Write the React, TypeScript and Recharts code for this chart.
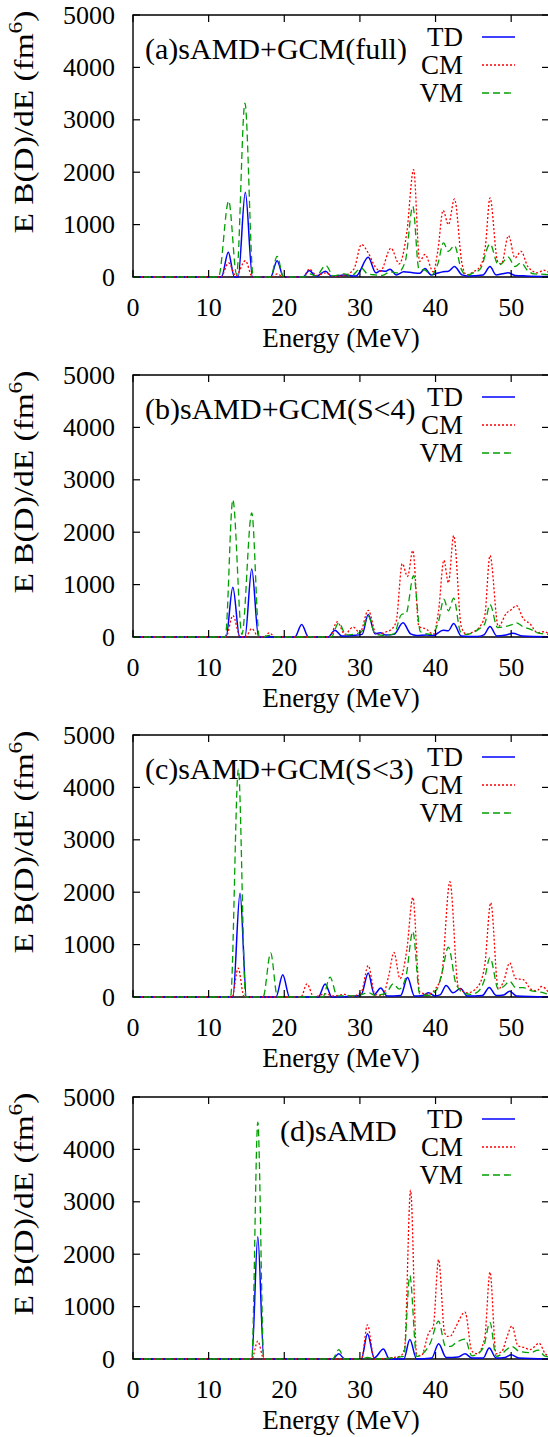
import React from 'react';
import { LineChart, Line, XAxis, YAxis, ReferenceArea } from 'recharts';

type Pt = [number, number];

const energyTicks = [0, 10, 20, 30, 40, 50];
const strengthTicks = [0, 1000, 2000, 3000, 4000, 5000];
const seriesNames = ['TD', 'CM', 'VM'];
const panelLabels = ['(a)sAMD+GCM(full)', '(b)sAMD+GCM(S<4)', '(c)sAMD+GCM(S<3)', '(d)sAMD'];

// (a) full
const fullTD: Pt[] = [[0,0],[11.7,0],[12.6,470],[13.4,0],[13.9,0],[14.85,1615],[15.8,0],[18.2,0],[19.05,310],[19.9,0],[22.5,0],[23.3,125],[24.2,10],[25.45,110],[26.3,10],[27.9,40],[29.5,20],[31.1,375],[32.1,80],[32.7,120],[33.4,110],[34.0,150],[34.8,40],[35.8,100],[37.0,80],[37.9,70],[38.6,160],[39.4,40],[40.2,70],[41.0,100],[41.7,110],[42.5,200],[43.5,40],[44.3,20],[46.3,40],[47.2,200],[48.0,40],[48.8,60],[49.6,80],[50.5,30],[52,20],[55,10]];
const fullCM: Pt[] = [[0,0],[11.6,0],[12.65,270],[13.6,20],[14.85,310],[15.8,0],[18.4,0],[19.05,60],[19.9,0],[22.5,0],[23.3,150],[24.3,30],[25.5,80],[26.5,10],[27.9,30],[29.2,150],[30.2,620],[31.1,460],[32.0,200],[32.7,110],[34.1,550],[35.2,250],[36.2,850],[37.1,2050],[37.9,300],[38.6,430],[39.7,100],[40.3,500],[41.0,1270],[41.7,1000],[42.5,1490],[43.5,250],[44.1,40],[45.0,100],[45.9,200],[46.6,600],[47.2,1510],[48.2,300],[48.7,250],[49.65,790],[50.5,360],[51.3,490],[52.2,200],[53.5,80],[54.3,130],[55,80]];
const fullVM: Pt[] = [[0,0],[11.3,0],[12.65,1450],[13.7,50],[14.8,3320],[15.9,0],[18.2,0],[19.05,395],[19.9,0],[22.5,0],[23.3,60],[24.2,20],[25.5,220],[26.5,20],[27.95,60],[28.8,20],[30.2,170],[31.0,60],[32.0,40],[33.0,30],[34.0,100],[35.0,80],[36.0,300],[37.0,1350],[37.8,150],[38.6,130],[39.5,40],[40.3,250],[41.05,650],[41.7,490],[42.5,600],[43.4,150],[44.1,30],[45.0,80],[45.9,150],[47.2,630],[48.3,230],[48.7,250],[49.6,380],[50.5,200],[51.3,270],[52.2,120],[53.0,60],[54.5,50],[55,40]];

// (b) S<4
const s4TD: Pt[] = [[0,0],[12.3,0],[13.2,950],[14.1,0],[14.8,0],[15.7,1300],[16.6,0],[21.4,0],[22.3,240],[23.2,0],[25.8,0],[26.7,130],[27.6,20],[29.1,30],[30.3,50],[31.1,430],[32.0,60],[32.7,80],[33.4,40],[34.5,50],[35.7,270],[36.7,60],[37.5,30],[38.8,40],[39.7,30],[41.0,130],[41.7,120],[42.4,260],[43.4,20],[45.5,10],[46.4,40],[47.2,200],[48.1,20],[49.3,40],[50.2,70],[51.5,20],[55,5]];
const s4CM: Pt[] = [[0,0],[12.3,0],[13.2,410],[14.2,0],[14.9,0],[15.7,160],[16.6,0],[17.3,0],[18.0,80],[18.8,0],[26.0,0],[27.0,290],[28.0,50],[29.1,190],[30.0,80],[31.1,510],[32.2,50],[33.5,100],[34.2,150],[34.8,300],[35.6,1400],[36.3,1155],[37.0,1650],[37.8,200],[38.8,150],[39.7,50],[40.4,500],[41.1,1465],[41.7,1035],[42.4,1935],[43.4,200],[44.1,50],[45.0,100],[45.7,170],[46.5,400],[47.2,1555],[48.3,200],[49.4,460],[50.0,520],[50.7,600],[51.6,350],[52.5,250],[53.5,80],[54.3,100],[55,60]];
const s4VM: Pt[] = [[0,0],[12.2,0],[13.2,2620],[14.4,50],[15.7,2370],[16.7,0],[17.3,0],[18.0,30],[18.8,0],[26.2,0],[27.2,270],[28.2,40],[29.1,50],[30.2,100],[31.1,400],[32.0,60],[33.0,30],[34.5,60],[35.5,430],[36.1,450],[37.1,1170],[38.0,100],[39.5,50],[40.4,300],[41.1,720],[41.7,500],[42.4,740],[43.3,100],[44.1,50],[45.7,150],[46.5,250],[47.2,620],[48.2,180],[49.2,200],[50.0,230],[50.7,270],[51.5,200],[52.5,150],[53.5,80],[55,50]];

// (c) S<3
const s3TD: Pt[] = [[0,0],[13.2,0],[14.15,1980],[15.0,0],[18.9,0],[19.8,425],[20.7,0],[24.5,0],[25.4,250],[26.3,0],[29.5,20],[30.2,50],[31.1,460],[31.9,50],[32.75,170],[33.6,20],[35.4,30],[36.3,370],[37.2,20],[38.3,30],[39.1,80],[39.9,20],[40.6,40],[41.4,220],[42.3,80],[43.3,160],[44.2,20],[46.2,30],[47.1,180],[48.0,30],[49.0,40],[49.8,110],[50.7,20],[55,5]];
const s3CM: Pt[] = [[0,0],[13.1,0],[13.9,550],[14.7,0],[22.2,0],[23.0,250],[23.9,0],[25.5,60],[26.5,20],[28.0,50],[28.8,10],[30.2,100],[31.1,600],[32.0,50],[33.0,30],[33.8,400],[34.5,850],[35.3,350],[36.2,900],[37.0,1900],[37.9,100],[39.0,50],[40.0,160],[40.8,410],[41.9,2200],[43.0,200],[44.2,80],[45.6,200],[46.5,600],[47.3,1800],[48.3,150],[49.0,300],[49.8,650],[50.6,350],[51.6,330],[52.6,150],[53.4,120],[54.0,200],[55,80]];
const s3VM: Pt[] = [[0,0],[12.9,0],[13.93,4350],[14.9,0],[17.2,0],[18.2,840],[19.1,0],[25.1,0],[26.05,380],[27.0,20],[29.5,20],[30.5,60],[31.2,80],[32.0,30],[33.5,80],[34.4,250],[35.2,150],[36.1,400],[37.0,1250],[37.9,60],[39.0,30],[40.2,150],[40.9,500],[41.7,950],[42.7,250],[43.7,80],[44.6,50],[45.6,100],[46.4,300],[47.2,750],[48.3,150],[49.0,200],[49.8,300],[50.6,180],[51.6,180],[52.6,120],[53.5,100],[54.3,80],[55,40]];

// (d) sAMD
const amdTD: Pt[] = [[0,0],[15.7,0],[16.5,2335],[17.3,0],[26.4,0],[27.2,100],[28.0,0],[30.2,0],[31.0,480],[31.9,20],[33.1,190],[33.9,0],[35.8,0],[36.6,370],[37.5,0],[39.5,20],[40.4,290],[41.4,30],[43.0,40],[43.9,100],[44.8,20],[46.3,20],[47.1,210],[48.0,20],[49.2,30],[50.0,80],[51.0,20],[55,5]];
const amdCM: Pt[] = [[0,0],[15.7,0],[16.5,340],[17.3,0],[30.2,0],[31.0,650],[31.9,0],[35.3,50],[35.9,200],[36.7,3220],[37.5,100],[38.1,60],[39.1,500],[39.7,620],[40.4,1900],[41.2,500],[41.6,430],[42.0,440],[42.6,590],[43.9,895],[44.8,150],[45.5,100],[46.5,400],[47.2,1660],[48.0,100],[48.8,150],[49.4,400],[50.1,630],[50.9,250],[51.7,220],[52.5,180],[53.7,300],[54.5,100],[55,60]];
const amdVM: Pt[] = [[0,0],[15.7,0],[16.5,4520],[17.3,0],[26.4,0],[27.2,180],[28.0,0],[30.3,0],[31.0,30],[31.9,0],[35.8,50],[36.6,1590],[37.5,50],[38.3,100],[39.3,300],[40.4,720],[41.3,250],[42.0,240],[42.6,300],[43.9,380],[44.8,60],[45.6,100],[46.4,250],[47.2,700],[48.0,50],[48.8,100],[49.4,180],[50.1,240],[51.0,150],[52.5,120],[53.6,170],[54.4,60],[55,40]];

const FONT = 'Liberation Serif';
const W = 560;
const H = 360;
const LEFT = 133;
const RIGHT = 549;
const TOP = 15;
const BOTTOM = 277;

const colors = ['#0000ff', '#ff0000', '#00a000'];
const dashes = [undefined, '2 2', '7 4'];

const toPts = (arr: Pt[]) => arr.map(([e, v]) => ({ e, v }));

const XTick = (props: any) => {
  const { x, payload } = props;
  return (
    <g>
      <line x1={x} x2={x} y1={BOTTOM} y2={BOTTOM - 7} stroke="#000" strokeWidth={1.2} />
      <line x1={x} x2={x} y1={TOP} y2={TOP + 7} stroke="#000" strokeWidth={1.2} />
      <text x={x} y={BOTTOM + 30} textAnchor="middle" dominantBaseline="central" style={{ fontFamily: FONT }} fontSize={26} fill="#000">
        {payload.value}
      </text>
    </g>
  );
};

const YTick = (props: any) => {
  const { y, payload } = props;
  return (
    <g>
      <line x1={LEFT} x2={LEFT + 7} y1={y} y2={y} stroke="#000" strokeWidth={1.2} />
      <line x1={RIGHT} x2={RIGHT - 7} y1={y} y2={y} stroke="#000" strokeWidth={1.2} />
      <text x={115} y={y} textAnchor="end" dominantBaseline="central" style={{ fontFamily: FONT }} fontSize={26} fill="#000">
        {payload.value}
      </text>
    </g>
  );
};

interface PanelProps {
  label: string;
  labelX: number;
  series: Pt[][];
  top: number;
}

const Panel: React.FC<PanelProps> = ({ label, labelX, series, top }) => (
  <div style={{ position: 'absolute', left: 0, top, width: W, height: H }}>
    <LineChart width={W} height={H} margin={{ top: TOP, right: W - RIGHT, bottom: 0, left: 0 }}>
      <XAxis
        dataKey="e"
        type="number"
        domain={[0, 55]}
        ticks={energyTicks}
        height={H - BOTTOM}
        axisLine={false}
        tickLine={false}
        tick={(p: any) => <XTick {...p} />}
      />
      <YAxis
        type="number"
        domain={[0, 5000]}
        ticks={strengthTicks}
        width={LEFT}
        axisLine={false}
        tickLine={false}
        tick={(p: any) => <YTick {...p} />}
      />
      {series.map((s, i) => (
        <Line
          key={seriesNames[i]}
          data={toPts(s)}
          dataKey="v"
          type="monotone"
          stroke={colors[i]}
          strokeWidth={i === 0 ? 1.5 : 1.3}
          strokeDasharray={dashes[i]}
          dot={false}
          isAnimationActive={false}
        />
      ))}
      <ReferenceArea x1={0} x2={55} y1={0} y2={5000} fill="none" stroke="#000" strokeWidth={1.4} ifOverflow="visible" />
    </LineChart>
    <svg width={W} height={H} style={{ position: 'absolute', left: 0, top: 0, pointerEvents: 'none', fontFamily: FONT }}>
      <text x={labelX} y={48} dominantBaseline="central" fontSize={30} fill="#000">
        {label}
      </text>
      {seriesNames.map((n, i) => (
        <g key={n}>
          <text x={463} y={37 + i * 28} textAnchor="end" dominantBaseline="central" fontSize={27} fill="#000">
            {n}
          </text>
          <line x1={482} x2={515} y1={37 + i * 28} y2={37 + i * 28} stroke={colors[i]} strokeWidth={1.3} strokeDasharray={dashes[i]} />
        </g>
      ))}
      <text
        transform="translate(33,122) rotate(-90)"
        textAnchor="middle"
        fontSize={27}
        fill="#000"
        textLength={223}
        lengthAdjust="spacingAndGlyphs"
      >
        E B(D)/dE (fm<tspan dy={-11} fontSize={19}>6</tspan><tspan dy={11}>)</tspan>
      </text>
      <text x={341} y={338} textAnchor="middle" dominantBaseline="central" fontSize={27} fill="#000">
        Energy (MeV)
      </text>
    </svg>
  </div>
);

export default function App() {
  const data = [
    [fullTD, fullCM, fullVM],
    [s4TD, s4CM, s4VM],
    [s3TD, s3CM, s3VM],
    [amdTD, amdCM, amdVM],
  ];
  const tops = [0, 360, 720, 1082];
  const labelXs = [145, 145, 145, 280];
  return (
    <div style={{ position: 'absolute', left: 0, top: 0, width: 548, height: 1437, overflow: 'hidden', background: '#fff', fontFamily: FONT }}>
      {data.map((series, i) => (
        <Panel key={panelLabels[i]} label={panelLabels[i]} labelX={labelXs[i]} series={series} top={tops[i]} />
      ))}
    </div>
  );
}
